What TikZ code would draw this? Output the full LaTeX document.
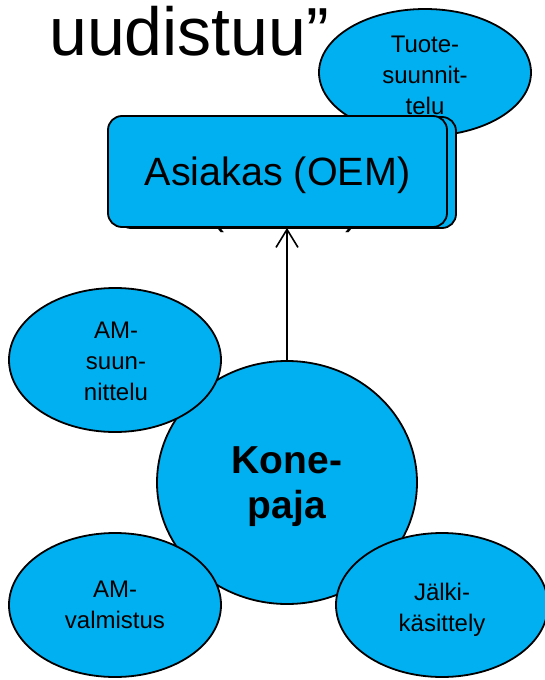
\documentclass[tikz,border=0pt]{standalone}
\usepackage{fontspec}
\setmainfont{Liberation Sans}
\usetikzlibrary{shapes.geometric,arrows.meta}
\definecolor{bub}{HTML}{00B0F0}
\begin{document}
\begin{tikzpicture}[x=1pt,y=-1pt,
  bubble/.style={ellipse, draw=black, line width=1.8pt, fill=bub, inner sep=0pt},
  oembox/.style={rectangle, rounded corners=14pt, draw=black, line width=1.8pt, fill=bub,
    minimum width=339pt, minimum height=111pt, inner sep=0pt},
  small/.style={inner sep=0pt, anchor=base, font=\fontsize{24}{31}\selectfont},
  link/.style={line width=1.6pt, -{Straight Barb[length=18pt,width=22pt]}}]
\useasboundingbox (0,0) rectangle (544,680);

% heading fragment
\node[anchor=base west, inner sep=0pt, font=\fontsize{68}{80}\selectfont] (title) at (49,55) {uudistuu”};

% product design bubble behind the customer box
\node[bubble, minimum width=212pt, minimum height=127pt] (tuote) at (425,72.5) {};
\node[small] (tuotetxt) at (425,52.5)
  {\begin{tabular}[t]{@{}c@{}}Tuote-\\suunnit-\\telu\end{tabular}};

% parentheses of a label hidden under the box
\node[anchor=base west, inner sep=0pt, font=\fontsize{39.5}{45}\selectfont] (lpar) at (211,224) {(};
\node[anchor=base west, inner sep=0pt, font=\fontsize{39.5}{45}\selectfont] (rpar) at (345,224) {)};

% customer box with its stacked copy
\node[oembox] (oemback) at (286.5,172.5) {};
\node[oembox, font=\fontsize{39.5}{45}\selectfont, text height=28.3pt, text depth=0pt] (oem) at (277.5,171.5) {Asiakas (OEM)};

% machine shop
\node[bubble, minimum width=260pt, minimum height=243pt] (kone) at (287,482.5) {};
\node[inner sep=0pt, anchor=base, font=\bfseries\fontsize{39}{45}\selectfont] (konetxt) at (287,473)
  {\begin{tabular}[t]{@{}c@{}}Kone-\\paja\end{tabular}};

% surrounding activities
\node[bubble, minimum width=212pt, minimum height=144pt] (amsuun) at (115,360) {};
\node[small] (amsuuntxt) at (116,338)
  {\begin{tabular}[t]{@{}c@{}}AM-\\suun-\\nittelu\end{tabular}};

\node[bubble, minimum width=212pt, minimum height=144pt] (amvalm) at (115,605) {};
\node[small] (amvalmtxt) at (115,597)
  {\begin{tabular}[t]{@{}c@{}}AM-\\valmistus\end{tabular}};

\node[bubble, minimum width=212pt, minimum height=144pt] (jalki) at (442,605) {};
\node[small] (jalkitxt) at (442,600)
  {\begin{tabular}[t]{@{}c@{}}Jälki-\\käsittely\end{tabular}};

% link from the machine shop to the customer
\draw[link] (kone.north) -- (kone.north |- oem.south);
\end{tikzpicture}
\end{document}
